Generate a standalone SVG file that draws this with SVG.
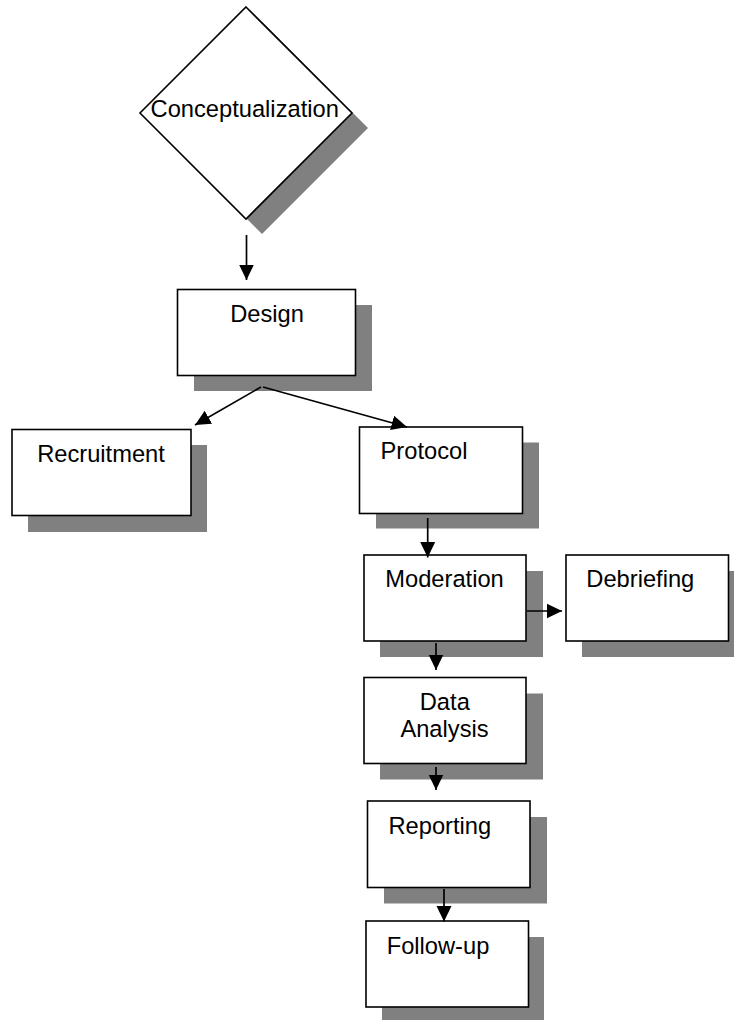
<svg xmlns="http://www.w3.org/2000/svg" width="734" height="1020" viewBox="0 0 734 1020">
<style>
.sh{fill:#808080;stroke:none}
.bx{fill:#fff;stroke:#000;stroke-width:1.6}
.t{font-family:"Liberation Sans",Arial,sans-serif;font-size:23.7px;fill:#000;text-anchor:middle}
.c{stroke:#000;stroke-width:1.7;fill:none;marker-end:url(#ah)}
</style>
<defs>
<marker id="ah" markerUnits="userSpaceOnUse" markerWidth="16" markerHeight="16" refX="15.5" refY="8" orient="auto">
<path d="M0,0.5 L15.5,8 L0,15.5 z" fill="#000"/>
</marker>
</defs>
<rect width="734" height="1020" fill="#fff"/>
<g id="conceptualization">
<polygon class="sh" points="262,22 368,128 262,234 156,128"/>
<polygon class="bx" points="246,7 352,113 246,219 140,113"/>
<text class="t" x="244.7" y="117">Conceptualization</text>
</g>
<g id="design">
<rect class="sh" x="194" y="305" width="178" height="86"/>
<rect class="bx" x="177.5" y="289.5" width="178" height="86"/>
<text class="t" x="267" y="322">Design</text>
</g>
<g id="recruitment">
<rect class="sh" x="28" y="445" width="179" height="87"/>
<rect class="bx" x="12" y="429.5" width="179" height="86"/>
<text class="t" x="101" y="461.7">Recruitment</text>
</g>
<g id="protocol">
<rect class="sh" x="376" y="442.5" width="163" height="86"/>
<rect class="bx" x="359.5" y="427" width="163" height="86.5"/>
<text class="t" x="424" y="459.3">Protocol</text>
</g>
<g id="moderation">
<rect class="sh" x="380" y="571" width="163" height="86"/>
<rect class="bx" x="364" y="555" width="162" height="86"/>
<text class="t" x="444.5" y="587.3">Moderation</text>
</g>
<g id="debriefing">
<rect class="sh" x="582" y="571" width="163" height="86"/>
<rect class="bx" x="566" y="555" width="162.5" height="86"/>
<text class="t" x="640.3" y="586.7">Debriefing</text>
</g>
<g id="data-analysis">
<rect class="sh" x="380" y="693.5" width="163" height="86"/>
<rect class="bx" x="364" y="677.5" width="162" height="86"/>
<text class="t" x="444.8" y="710">Data</text>
<text class="t" x="444.5" y="736.7">Analysis</text>
</g>
<g id="reporting">
<rect class="sh" x="384" y="817" width="163" height="86.5"/>
<rect class="bx" x="367.5" y="801" width="162.5" height="86.5"/>
<text class="t" x="439.8" y="834">Reporting</text>
</g>
<g id="follow-up">
<rect class="sh" x="382" y="937" width="162" height="86"/>
<rect class="bx" x="366" y="921" width="162.5" height="86"/>
<text class="t" x="438" y="954">Follow-up</text>
</g>
<g id="connectors">
<line class="c" x1="246.5" y1="235" x2="246.5" y2="280"/>
<line class="c" x1="261" y1="387" x2="195" y2="425"/>
<line class="c" x1="263" y1="387" x2="407" y2="427"/>
<line class="c" x1="427.7" y1="518" x2="427.7" y2="557.5"/>
<line class="c" x1="527" y1="611" x2="562" y2="611"/>
<line class="c" x1="436" y1="643" x2="436" y2="670"/>
<line class="c" x1="436" y1="767" x2="436" y2="790"/>
<line class="c" x1="444" y1="889" x2="444" y2="921.5"/>
</g>
</svg>
